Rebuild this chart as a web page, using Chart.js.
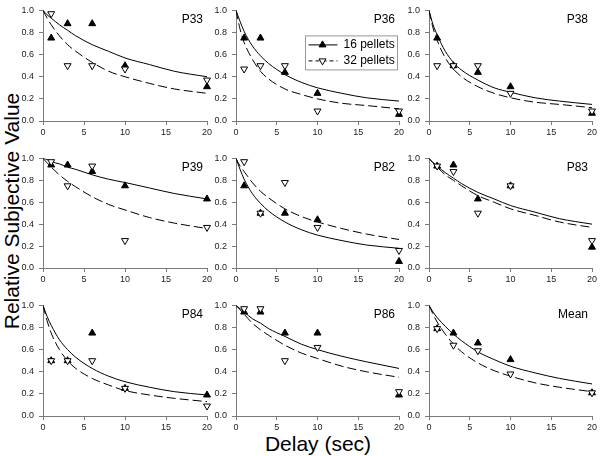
<!DOCTYPE html>
<html>
<head>
<meta charset="utf-8">
<script src="https://cdn.jsdelivr.net/npm/chart.js@4.4.0/dist/chart.umd.min.js"></script>
<style>
  html, body { margin: 0; padding: 0; background: #fff; }
  #wrap { position: relative; width: 600px; height: 456px; overflow: hidden; font-family: Arial, "Liberation Sans", sans-serif; }
  .panel { position: absolute; }
  #ytitle { position: absolute; left: 12px; top: 211px; transform: translate(-50%, -50%) rotate(-90deg); font-size: 21px; white-space: nowrap; }
  #xtitle { position: absolute; left: 318px; top: 444px; transform: translate(-50%, -50%); font-size: 21px; white-space: nowrap; }
</style>
</head>
<body>
<div id="wrap">
  <div id="ytitle">Relative Subjective Value</div>
  <div id="xtitle">Delay (sec)</div>
</div>
<script>
// data
const panelNames = ['P33', 'P36', 'P38', 'P39', 'P82', 'P83', 'P84', 'P86', 'Mean'];
const delays = [1, 3, 6, 10, 20];
const pellets16 = [
  [0.75, 0.88, 0.88, 0.50, 0.31],
  [0.75, 0.75, 0.44, 0.25, 0.06],
  [0.75, 0.50, 0.44, 0.31, 0.07],
  [0.94, 0.94, 0.88, 0.75, 0.63],
  [0.75, 0.50, 0.50, 0.44, 0.06],
  [0.93, 0.94, 0.63, 0.75, 0.19],
  [0.50, 0.50, 0.75, 0.25, 0.19],
  [0.94, 0.94, 0.75, 0.75, 0.19],
  [0.79, 0.75, 0.66, 0.51, 0.21]
];
const pellets32 = [
  [0.97, 0.50, 0.50, 0.47, 0.37],
  [0.47, 0.50, 0.50, 0.09, 0.09],
  [0.50, 0.50, 0.50, 0.25, 0.09],
  [0.97, 0.75, 0.93, 0.25, 0.37],
  [0.97, 0.50, 0.78, 0.37, 0.16],
  [0.93, 0.88, 0.50, 0.75, 0.25],
  [0.50, 0.50, 0.50, 0.25, 0.09],
  [0.97, 0.97, 0.50, 0.62, 0.22],
  [0.79, 0.64, 0.59, 0.38, 0.21]
];
// fitted curves, read at these delays
const curveDelays = [0, 0.5, 1, 2, 3, 4, 6, 8, 10, 13, 16, 20];
const fit16 = [
  [1, 0.96, 0.93, 0.87, 0.82, 0.77, 0.69, 0.63, 0.57, 0.51, 0.45, 0.40],
  [1, 0.90, 0.81, 0.68, 0.59, 0.52, 0.42, 0.35, 0.30, 0.25, 0.21, 0.18],
  [1, 0.87, 0.78, 0.63, 0.53, 0.46, 0.37, 0.30, 0.26, 0.21, 0.18, 0.15],
  [1, 0.99, 0.97, 0.95, 0.92, 0.90, 0.85, 0.81, 0.78, 0.73, 0.68, 0.63],
  [1, 0.90, 0.81, 0.68, 0.59, 0.52, 0.42, 0.35, 0.30, 0.25, 0.21, 0.18],
  [1, 0.96, 0.93, 0.87, 0.82, 0.77, 0.69, 0.63, 0.57, 0.51, 0.45, 0.40],
  [1, 0.90, 0.82, 0.69, 0.60, 0.53, 0.43, 0.36, 0.31, 0.26, 0.22, 0.19],
  [1, 0.97, 0.94, 0.88, 0.84, 0.79, 0.72, 0.65, 0.60, 0.54, 0.49, 0.43],
  [1, 0.94, 0.89, 0.81, 0.74, 0.68, 0.58, 0.51, 0.45, 0.39, 0.34, 0.29]
];
const fit32 = [
  [1, 0.93, 0.87, 0.77, 0.69, 0.63, 0.53, 0.45, 0.40, 0.34, 0.29, 0.25],
  [1, 0.83, 0.71, 0.56, 0.45, 0.38, 0.29, 0.24, 0.20, 0.16, 0.14, 0.11],
  [1, 0.84, 0.73, 0.57, 0.47, 0.40, 0.31, 0.25, 0.21, 0.17, 0.15, 0.12],
  [1, 0.96, 0.92, 0.85, 0.79, 0.74, 0.65, 0.58, 0.53, 0.46, 0.41, 0.36],
  [1, 0.93, 0.88, 0.78, 0.70, 0.64, 0.54, 0.47, 0.42, 0.36, 0.31, 0.26],
  [1, 0.96, 0.92, 0.85, 0.80, 0.75, 0.66, 0.60, 0.54, 0.48, 0.42, 0.37],
  [1, 0.86, 0.75, 0.60, 0.50, 0.43, 0.34, 0.28, 0.23, 0.19, 0.16, 0.13],
  [1, 0.96, 0.92, 0.84, 0.78, 0.73, 0.64, 0.57, 0.52, 0.45, 0.40, 0.35],
  [1, 0.92, 0.85, 0.74, 0.65, 0.58, 0.48, 0.41, 0.36, 0.30, 0.26, 0.22]
];
const seriesLabels = ['16 pellets', '32 pellets'];

// plot area edges in the page
const colLeft = [43, 236, 429], colRight = [207, 399, 592];
const rowTop = [7, 155, 302], rowBottom = [121, 268, 416];
const FONT = 'Arial, "Liberation Sans", sans-serif';
const axisGray = '#7a7a7a';

const toPts = (xs, ys) => xs.map((x, i) => ({ x: x, y: ys[i] }));

const panelLabel = {
  id: 'panelLabel',
  afterDraw(chart) {
    const ctx = chart.ctx, ca = chart.chartArea;
    ctx.save();
    ctx.font = '12px ' + FONT;
    ctx.fillStyle = '#000';
    ctx.textAlign = 'right';
    ctx.textBaseline = 'middle';
    ctx.fillText(chart.$name, ca.right - 4, ca.top + 9);
    ctx.restore();
  }
};

const legendBox = {
  id: 'legendBox',
  afterDraw(chart) {
    const ctx = chart.ctx, ca = chart.chartArea;
    const x0 = ca.left + 69.5, y0 = ca.top + 25.5;
    ctx.save();
    ctx.strokeStyle = '#999';
    ctx.lineWidth = 1;
    ctx.strokeRect(x0, y0, 92, 34);
    ctx.font = '12px ' + FONT;
    ctx.textBaseline = 'middle';
    [0, 1].forEach(k => {
      const y = y0 + 9 + k * 16;
      ctx.strokeStyle = '#000';
      ctx.setLineDash(k ? [4, 3] : []);
      ctx.beginPath();
      ctx.moveTo(x0 + 3, y);
      ctx.lineTo(x0 + 32, y);
      ctx.stroke();
      ctx.setLineDash([]);
      ctx.fillStyle = k ? '#fff' : '#000';
      Chart.helpers.drawPoint(ctx, { pointStyle: 'triangle', rotation: k ? 180 : 0, radius: 4, borderWidth: 1 }, x0 + 17, y);
      ctx.fillStyle = '#000';
      ctx.fillText(seriesLabels[k], x0 + 38, y);
    });
    ctx.restore();
  }
};

const wrap = document.getElementById('wrap');

panelNames.forEach((name, i) => {
  const col = i % 3, row = Math.floor(i / 3);
  const L = colLeft[col], R = colRight[col], T = rowTop[row], B = rowBottom[row];
  const div = document.createElement('div');
  div.className = 'panel';
  div.style.left = (L - 43) + 'px';
  div.style.top = (T - 7) + 'px';
  const canvas = document.createElement('canvas');
  canvas.width = R - L + 51;
  canvas.height = B - T + 29;
  div.appendChild(canvas);
  wrap.appendChild(div);

  const chart = new Chart(canvas, {
    type: 'scatter',
    data: {
      datasets: [
        {
          label: seriesLabels[1], data: toPts(delays, pellets32[i]),
          pointStyle: 'triangle', rotation: 180, pointRadius: 4,
          backgroundColor: '#fff', borderColor: '#000', borderWidth: 1,
          order: 0, clip: false
        },
        {
          label: seriesLabels[0], data: toPts(delays, pellets16[i]),
          pointStyle: 'triangle', pointRadius: 4,
          backgroundColor: '#000', borderColor: '#000', borderWidth: 1,
          order: 1, clip: false
        },
        {
          type: 'line', data: toPts(curveDelays, fit32[i]),
          borderColor: '#000', borderWidth: 1, borderDash: [9, 4],
          pointRadius: 0, fill: false, cubicInterpolationMode: 'monotone', order: 2
        },
        {
          type: 'line', data: toPts(curveDelays, fit16[i]),
          borderColor: '#000', borderWidth: 1,
          pointRadius: 0, fill: false, cubicInterpolationMode: 'monotone', order: 3
        }
      ]
    },
    options: {
      responsive: false,
      animation: false,
      events: [],
      layout: { padding: { top: 7, right: 8, left: 0, bottom: 0 } },
      plugins: { legend: { display: false }, tooltip: { enabled: false } },
      scales: {
        x: {
          type: 'linear', min: 0, max: 20,
          afterFit: s => { s.height = 22; },
          ticks: { stepSize: 5, maxRotation: 0, padding: 2, color: '#222', font: { size: 9, family: FONT } },
          grid: { drawOnChartArea: false, tickLength: 4, color: axisGray },
          border: { color: axisGray }
        },
        y: {
          min: 0, max: 1,
          afterFit: s => { s.width = 43; },
          ticks: { stepSize: 0.2, padding: 5, color: '#222', font: { size: 9, family: FONT }, callback: v => v.toFixed(1) },
          grid: { drawOnChartArea: false, tickLength: 4, color: axisGray },
          border: { color: axisGray }
        }
      }
    },
    plugins: i === 1 ? [panelLabel, legendBox] : [panelLabel]
  });
  chart.$name = name;
  chart.draw();
});
</script>
</body>
</html>
